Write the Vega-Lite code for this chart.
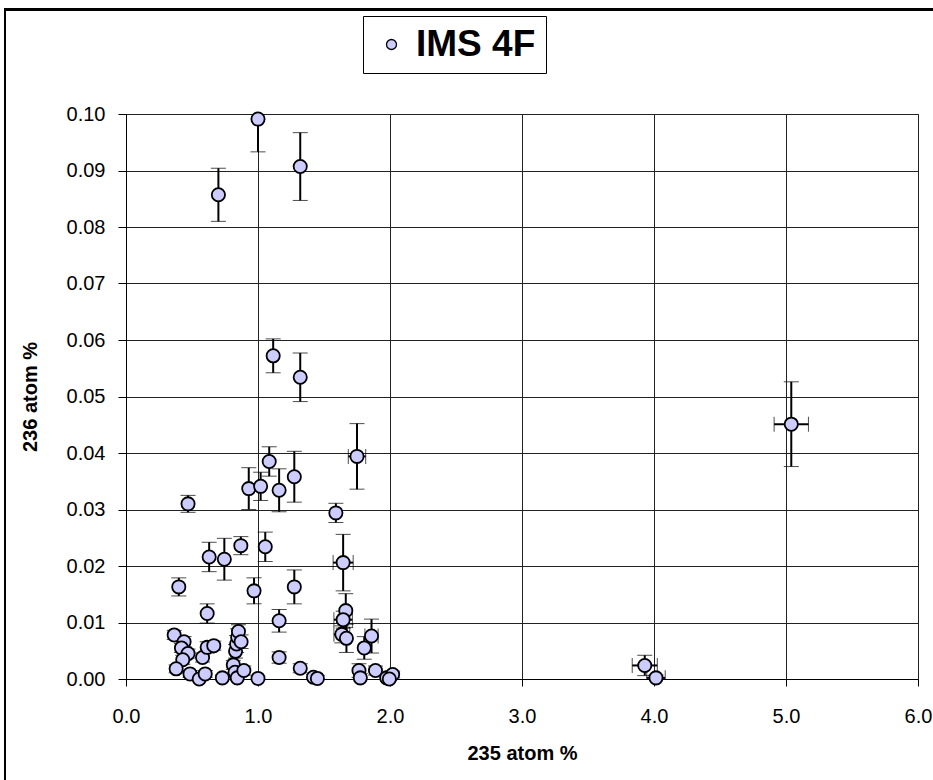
{
  "$schema": "https://vega.github.io/schema/vega-lite/v6.json",
  "width": 792,
  "height": 565,
  "autosize": {"type": "none"},
  "padding": {"left": 126, "top": 114, "right": 15, "bottom": 101},
  "background": "white",
  "config": {
    "font": "Liberation Sans",
    "view": {"stroke": "#808080", "strokeWidth": 1},
    "axis": {
      "labelFont": "Liberation Sans", "titleFont": "Liberation Sans",
      "labelColor": "black", "titleColor": "black",
      "domainColor": "black", "tickColor": "black",
      "gridColor": "#222222", "gridWidth": 1,
      "labelFontSize": 20, "titleFontSize": 20, "titleFontWeight": "bold"
    }
  },
  "data": {"values": [
    {"x": 0.70, "y": 0.0857, "ye": 0.0047, "xe": 0},
    {"x": 1.00, "y": 0.0991, "ye": 0.0058, "xe": 0},
    {"x": 1.32, "y": 0.0907, "ye": 0.0060, "xe": 0},
    {"x": 1.115, "y": 0.0572, "ye": 0.0030, "xe": 0},
    {"x": 1.32, "y": 0.0534, "ye": 0.0043, "xe": 0},
    {"x": 5.04, "y": 0.0451, "ye": 0.0075, "xe": 0.13},
    {"x": 1.75, "y": 0.0394, "ye": 0.0058, "xe": 0.066},
    {"x": 1.085, "y": 0.0385, "ye": 0.0026, "xe": 0},
    {"x": 1.275, "y": 0.0358, "ye": 0.0045, "xe": 0},
    {"x": 0.93, "y": 0.0337, "ye": 0.0037, "xe": 0},
    {"x": 1.02, "y": 0.0341, "ye": 0.0025, "xe": 0},
    {"x": 1.16, "y": 0.0334, "ye": 0.0038, "xe": 0},
    {"x": 0.47, "y": 0.0310, "ye": 0.0015, "xe": 0},
    {"x": 1.59, "y": 0.0294, "ye": 0.0017, "xe": 0},
    {"x": 0.87, "y": 0.0236, "ye": 0.0016, "xe": 0},
    {"x": 1.055, "y": 0.0234, "ye": 0.0026, "xe": 0},
    {"x": 0.63, "y": 0.0216, "ye": 0.0026, "xe": 0},
    {"x": 0.745, "y": 0.0212, "ye": 0.0037, "xe": 0},
    {"x": 1.645, "y": 0.0206, "ye": 0.0050, "xe": 0.076},
    {"x": 0.40, "y": 0.0163, "ye": 0.0016, "xe": 0},
    {"x": 0.97, "y": 0.0156, "ye": 0.0023, "xe": 0},
    {"x": 1.275, "y": 0.0163, "ye": 0.0030, "xe": 0},
    {"x": 0.615, "y": 0.0116, "ye": 0.0017, "xe": 0},
    {"x": 1.16, "y": 0.0103, "ye": 0.0020, "xe": 0},
    {"x": 1.665, "y": 0.0121, "ye": 0.0030, "xe": 0},
    {"x": 1.645, "y": 0.0105, "ye": 0.0015, "xe": 0.07},
    {"x": 1.635, "y": 0.0079, "ye": 0.0015, "xe": 0.06},
    {"x": 1.67, "y": 0.0072, "ye": 0.0025, "xe": 0},
    {"x": 1.86, "y": 0.0076, "ye": 0.0030, "xe": 0.05},
    {"x": 1.805, "y": 0.0055, "ye": 0.0020, "xe": 0},
    {"x": 1.16, "y": 0.0038, "ye": 0.0010, "xe": 0},
    {"x": 1.32, "y": 0.0019, "ye": 0.0008, "xe": 0},
    {"x": 1.42, "y": 0.0003, "ye": 0.0005, "xe": 0},
    {"x": 1.45, "y": 0.0001, "ye": 0.0005, "xe": 0},
    {"x": 1.765, "y": 0.0015, "ye": 0.0012, "xe": 0},
    {"x": 1.775, "y": 0.0002, "ye": 0.0008, "xe": 0},
    {"x": 1.89, "y": 0.0015, "ye": 0.0008, "xe": 0},
    {"x": 1.975, "y": 0.0002, "ye": 0.0005, "xe": 0},
    {"x": 2.02, "y": 0.0008, "ye": 0.0006, "xe": 0},
    {"x": 1.995, "y": 0.0000, "ye": 0.0004, "xe": 0},
    {"x": 1.00, "y": 0.0001, "ye": 0.0004, "xe": 0},
    {"x": 3.93, "y": 0.0024, "ye": 0.0018, "xe": 0.095},
    {"x": 4.015, "y": 0.0002, "ye": 0.0005, "xe": 0.07},
    {"x": 0.365, "y": 0.0078, "ye": 0.0008, "xe": 0},
    {"x": 0.44, "y": 0.0066, "ye": 0.0009, "xe": 0},
    {"x": 0.42, "y": 0.0055, "ye": 0.0008, "xe": 0},
    {"x": 0.47, "y": 0.0045, "ye": 0.0008, "xe": 0},
    {"x": 0.43, "y": 0.0034, "ye": 0.0008, "xe": 0},
    {"x": 0.38, "y": 0.0018, "ye": 0.0007, "xe": 0},
    {"x": 0.485, "y": 0.0009, "ye": 0.0006, "xe": 0},
    {"x": 0.555, "y": 0.0000, "ye": 0.0005, "xe": 0},
    {"x": 0.60, "y": 0.0009, "ye": 0.0006, "xe": 0},
    {"x": 0.58, "y": 0.0038, "ye": 0.0008, "xe": 0},
    {"x": 0.615, "y": 0.0056, "ye": 0.0010, "xe": 0},
    {"x": 0.665, "y": 0.0059, "ye": 0.0008, "xe": 0},
    {"x": 0.73, "y": 0.0002, "ye": 0.0005, "xe": 0},
    {"x": 0.813, "y": 0.0025, "ye": 0.0008, "xe": 0},
    {"x": 0.83, "y": 0.0049, "ye": 0.0012, "xe": 0},
    {"x": 0.838, "y": 0.0062, "ye": 0.0015, "xe": 0},
    {"x": 0.846, "y": 0.0074, "ye": 0.0015, "xe": 0},
    {"x": 0.852, "y": 0.0084, "ye": 0.0012, "xe": 0},
    {"x": 0.872, "y": 0.0066, "ye": 0.0012, "xe": 0},
    {"x": 0.826, "y": 0.0012, "ye": 0.0008, "xe": 0},
    {"x": 0.843, "y": 0.0002, "ye": 0.0006, "xe": 0},
    {"x": 0.893, "y": 0.0015, "ye": 0.0008, "xe": 0}
  ]},
  "encoding": {
    "x": {
      "field": "x", "type": "quantitative",
      "scale": {"domain": [0, 6], "nice": false, "zero": false},
      "axis": {"values": [0, 1, 2, 3, 4, 5, 6], "format": ".1f", "title": "235 atom %",
               "tickSize": 7, "labelPadding": 20, "titlePadding": 17, "labelFlush": false,
               "labelOverlap": false, "grid": true}
    },
    "y": {
      "field": "y", "type": "quantitative",
      "scale": {"domain": [0, 0.1], "nice": false, "zero": false},
      "axis": {"values": [0, 0.01, 0.02, 0.03, 0.04, 0.05, 0.06, 0.07, 0.08, 0.09, 0.1],
               "format": ".2f", "title": "236 atom %", "tickSize": 8, "labelPadding": 13,
               "titlePadding": 26, "labelFlush": false, "labelOverlap": false, "grid": true}
    }
  },
  "layer": [
    {
      "mark": {"type": "rect", "filled": false, "stroke": "black", "strokeWidth": 1.3, "clip": false},
      "encoding": {
        "x": {"datum": -0.917, "type": "quantitative", "scale": {"domain": [0, 6], "nice": false, "zero": false}},
        "x2": {"datum": 6.4},
        "y": {"datum": 0.1185, "type": "quantitative", "scale": {"domain": [0, 0.1], "nice": false, "zero": false}},
        "y2": {"datum": -0.03}
      }
    },
    {
      "mark": {"type": "errorbar", "clip": true, "ticks": {"size": 15, "color": "black", "strokeWidth": 2}, "rule": {"color": "black", "strokeWidth": 2}},
      "encoding": {
        "yError": {"field": "ye"}
      }
    },
    {
      "transform": [{"filter": "datum.xe > 0"}],
      "mark": {"type": "errorbar", "clip": true, "ticks": {"size": 15, "color": "black", "strokeWidth": 2}, "rule": {"color": "black", "strokeWidth": 2}},
      "encoding": {
        "xError": {"field": "xe"}
      }
    },
    {
      "mark": {"type": "circle", "size": 175, "stroke": "black", "strokeWidth": 1.8, "opacity": 1},
      "encoding": {
        "fill": {
          "datum": "IMS 4F", "type": "nominal",
          "scale": {"range": ["#ccccff"]},
          "legend": {
            "orient": "none", "legendX": 237, "legendY": -98, "title": null,
            "strokeColor": "black", "fillColor": "white", "padding": 10,
            "labelFontSize": 37, "labelFont": "Liberation Sans", "labelFontWeight": "bold",
            "labelColor": "black", "labelLimit": 400,
            "symbolType": "circle", "symbolSize": 100, "symbolStrokeColor": "black",
            "symbolStrokeWidth": 1.3, "symbolOffset": 0, "labelOffset": 6
          }
        }
      }
    }
  ]
}
